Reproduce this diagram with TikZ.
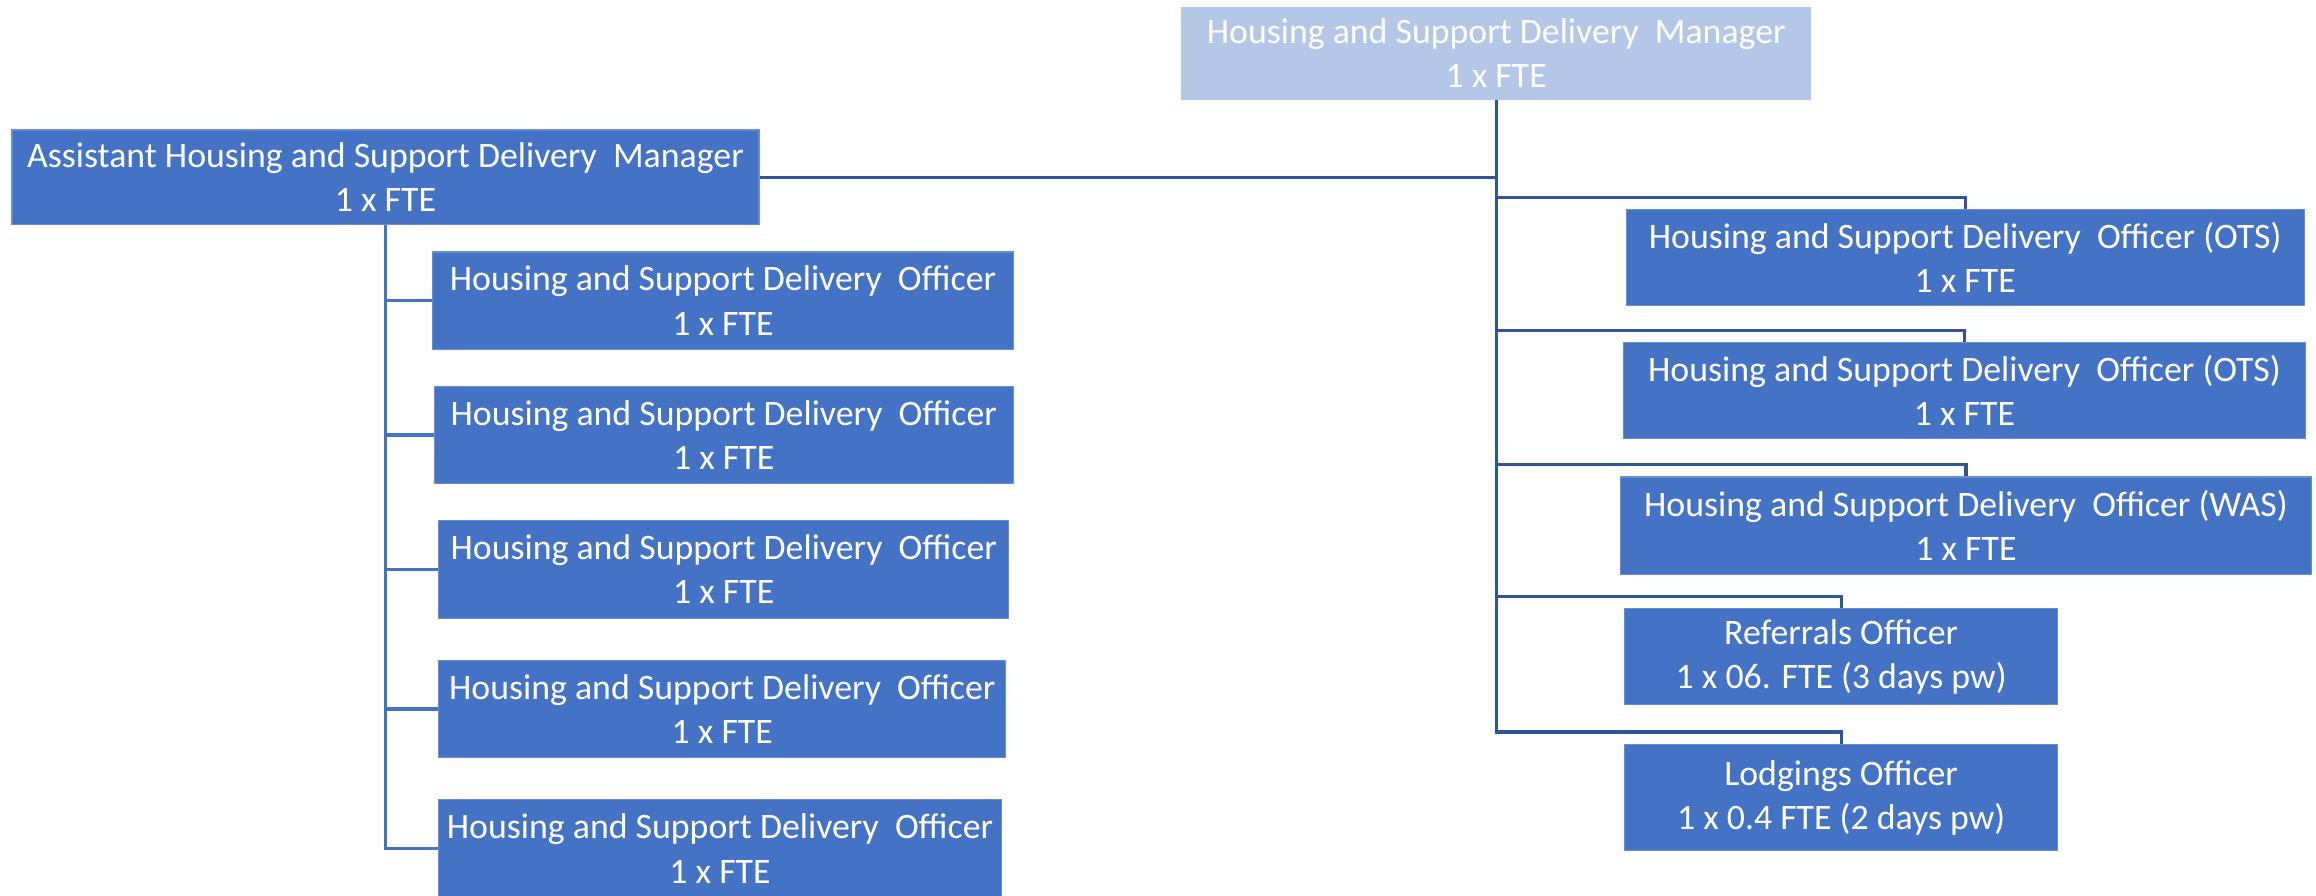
\documentclass[tikz,border=0pt]{standalone}
\usepackage{fontspec}
\setmainfont{Carlito}
\usepackage{tikz}

\definecolor{boxblue}{HTML}{4472C4}
\definecolor{boxpale}{HTML}{B4C7E7}
\definecolor{linkdark}{HTML}{2F5597}

\tikzset{
    post/.style={fill=boxblue, draw=boxblue!80!white, line width=0.5pt, text=white,
        inner sep=0pt, align=center, font=\fontsize{13.8}{17}\selectfont},
    link/.style={draw=linkdark, line width=1.2pt},
    leftlink/.style={draw=boxblue, line width=1.2pt}
}

\begin{document}
\begin{tikzpicture}[x=0.02cm, y=-0.02cm]
    \useasboundingbox (0,0) rectangle (1568,606.6);

    % Manager and assistant
    \node[post, fill=boxpale, draw=boxpale, minimum width=8.52cm, minimum height=1.24cm] (mgr) at (1013,36)
        {Housing and Support Delivery~ Manager\\1 x FTE};
    \node[post, minimum width=10.12cm, minimum height=1.28cm] (asst) at (261,120)
        {Assistant Housing and Support Delivery~ Manager\\1 x FTE};

    % Officers under the assistant
    \foreach \i/\cx/\cy/\w in {1/489.5/203.5/7.86, 2/490/294.5/7.84, 3/490/385.5/7.72,
                               4/489/480/7.68, 5/487.5/574.5/7.62} {
        \node[post, minimum width=\w cm, minimum height=1.32cm] (hso\i) at (\cx,\cy)
            {Housing and Support Delivery~ Officer\\1 x FTE};
        \draw[leftlink] (asst.south) |- (hso\i.west);
    }

    % Officers under the manager
    \node[post, minimum width=9.18cm, minimum height=1.30cm] (ots1) at (1330.5,174.5)
        {Housing and Support Delivery~ Officer (OTS)\\1 x FTE};
    \node[post, minimum width=9.24cm, minimum height=1.30cm] (ots2) at (1330,264.5)
        {Housing and Support Delivery~ Officer (OTS)\\1 x FTE};
    \node[post, minimum width=9.36cm, minimum height=1.32cm] (was) at (1331,356)
        {Housing and Support Delivery~ Officer (WAS)\\1 x FTE};
    \node[post, minimum width=5.86cm, minimum height=1.30cm] (refo) at (1246.5,444.5)
        {Referrals Officer\\1 x 06. FTE (3 days pw)};
    \node[post, minimum width=5.86cm, minimum height=1.44cm] (lodg) at (1246.5,540)
        {Lodgings Officer\\1 x 0.4 FTE (2 days pw)};

    \foreach \n in {ots1, ots2, was, refo, lodg}
        \draw[link] (\n.north) -- ([yshift=0.16cm]\n.north) -| (mgr.south);

    % Assistant to manager
    \draw[link] (asst.east) -- (asst.east -| mgr.south);
\end{tikzpicture}
\end{document}
